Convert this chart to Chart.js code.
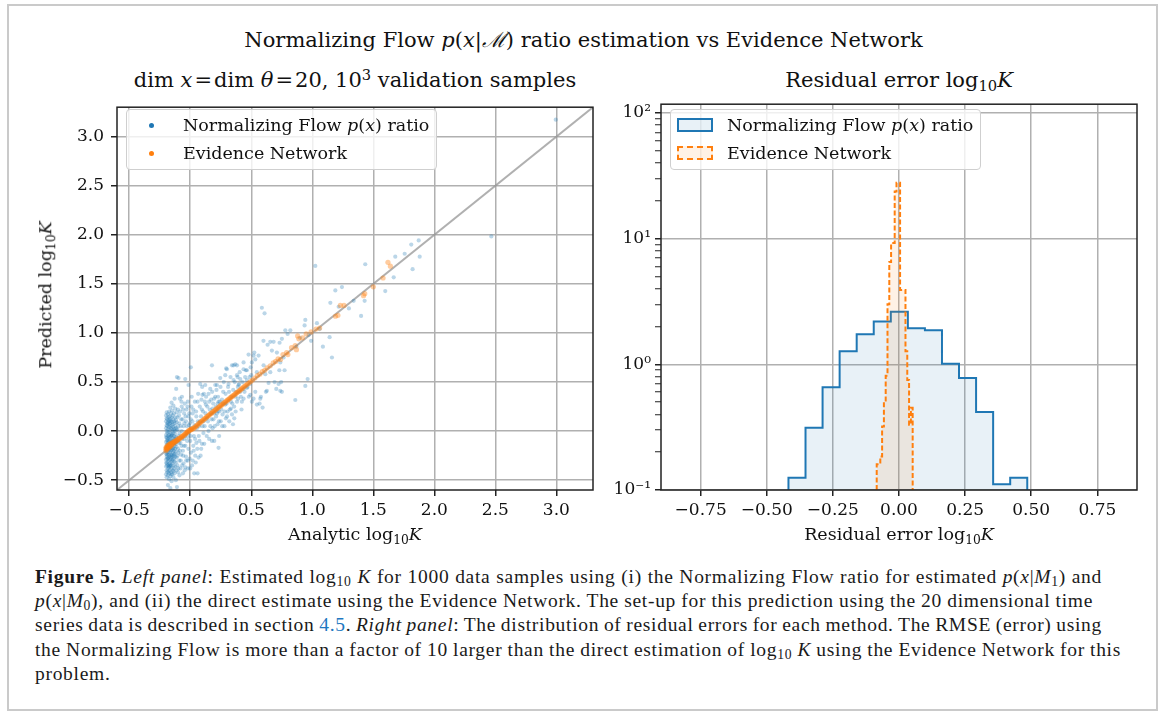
<!DOCTYPE html>
<html>
<head>
<meta charset="utf-8">
<script src="https://cdn.jsdelivr.net/npm/chart.js@4.4.0/dist/chart.umd.min.js"></script>
<style>
  body { margin: 0; width: 1167px; height: 711px; overflow: hidden; background: #fff; font-family: 'DejaVu Serif', serif; color: #111; }
  #frame { position: absolute; left: 7px; top: 4px; width: 1151px; height: 707px; border: 2px solid #cacaca; box-sizing: border-box; }
  .txt { position: absolute; white-space: nowrap; line-height: 1; }
  #suptitle { left: 0; width: 1167px; top: 30px; text-align: center; font-size: 21px; }
  .subtitle { top: 70px; width: 476px; text-align: center; font-size: 21px; }
  .eq { margin: 0 2px; }
  .xlab { top: 526px; width: 476px; text-align: center; font-size: 17.5px; }
  #ylab { left: 46px; top: 295px; font-size: 17.5px; transform: translate(-50%, -50%) rotate(-90deg); }
  sub { font-size: 0.7em; vertical-align: -0.3em; line-height: 0; }
  sup { font-size: 0.7em; vertical-align: 0.5em; line-height: 0; }
  canvas { position: absolute; }
  .legend { position: absolute; width: 311px; height: 61px; border: 1px solid #cfcfcf; border-radius: 4px; background: rgba(255,255,255,0.8); box-sizing: border-box; font-size: 17.5px; }
  .legend .lt { position: absolute; left: 56px; white-space: nowrap; line-height: 1; }
  .dot { position: absolute; width: 5px; height: 5px; border-radius: 50%; }
  .patch { position: absolute; left: 6px; width: 36px; height: 14px; box-sizing: border-box; }
  #caption { position: absolute; left: 35px; top: 565px; font-family: 'Liberation Serif', serif; font-size: 19.5px; line-height: 24.2px; letter-spacing: 0.7px; color: #1a1a1a; }
  #caption div { white-space: nowrap; }
  #caption sub { vertical-align: -0.25em; }
  .ref { color: #1f78c1; }
</style>
</head>
<body>
<div id="frame"></div>
<div class="txt" id="suptitle">Normalizing Flow <i>p</i>(<i>x</i>|<i>ℳ</i>) ratio estimation vs Evidence Network</div>
<div class="txt subtitle" style="left:117px">dim <i>x</i><span class="eq">=</span>dim <i>θ</i><span class="eq">=</span>20, 10<sup>3</sup> validation samples</div>
<div class="txt subtitle" style="left:661px">Residual error log<sub>10</sub><i>K</i></div>

<canvas id="scatterChart" width="560" height="440" style="left:40px;top:90px"></canvas>
<canvas id="histChart" width="560" height="440" style="left:600px;top:90px"></canvas>

<div class="legend" style="left:126px;top:109px">
  <span class="dot" style="left:22px;top:13px;background:#1f77b4"></span>
  <span class="lt" style="top:7px">Normalizing Flow <i>p</i>(<i>x</i>) ratio</span>
  <span class="dot" style="left:22px;top:41px;background:#ff7f0e"></span>
  <span class="lt" style="top:35px">Evidence Network</span>
</div>
<div class="legend" style="left:670px;top:109px">
  <span class="patch" style="top:8px;border:2px solid #1f77b4;background:rgba(31,119,180,0.1)"></span>
  <span class="lt" style="top:7px">Normalizing Flow <i>p</i>(<i>x</i>) ratio</span>
  <span class="patch" style="top:36px;border:2px dashed #ff7f0e;background:rgba(255,127,14,0.1)"></span>
  <span class="lt" style="top:35px">Evidence Network</span>
</div>

<div class="txt xlab" style="left:117px">Analytic log<sub>10</sub><i>K</i></div>
<div class="txt xlab" style="left:661px">Residual error log<sub>10</sub><i>K</i></div>
<div class="txt" id="ylab">Predicted log<sub>10</sub><i>K</i></div>

<div id="caption">
  <div><span class="line"><b>Figure 5.</b> <i>Left panel</i>: Estimated log<sub>10</sub> <i>K</i> for 1000 data samples using (i) the Normalizing Flow ratio for estimated <i>p</i>(<i>x</i>|<i>M</i><sub>1</sub>) and</span></div>
  <div><span class="line"><i>p</i>(<i>x</i>|<i>M</i><sub>0</sub>), and (ii) the direct estimate using the Evidence Network. The set-up for this prediction using the 20 dimensional time</span></div>
  <div><span class="line">series data is described in section <span class="ref">4.5</span>. <i>Right panel</i>: The distribution of residual errors for each method. The RMSE (error) using</span></div>
  <div><span class="line">the Normalizing Flow is more than a factor of 10 larger than the direct estimation of log<sub>10</sub> <i>K</i> using the Evidence Network for this</span></div>
  <div><span class="line">problem.</span></div>
</div>

<script>
// Left panel: analytic vs predicted log10 K
const scatterLimits = [-0.6, 3.3];
const scatterTicks = [-0.5, 0, 0.5, 1, 1.5, 2, 2.5, 3];

// Normalizing Flow ratio, [analytic, predicted]
const flowPoints = [
  [-0.198,-0.44],[-0.198,-0.36],[-0.198,-0.29],[-0.198,-0.23],[-0.198,-0.17],[-0.198,-0.11],[-0.198,-0.04],[-0.198,0.03],[-0.198,0.10],[-0.198,0.16],
  [-0.193,-0.47],[-0.193,-0.40],[-0.193,-0.33],[-0.193,-0.26],[-0.193,-0.20],[-0.193,-0.14],[-0.193,-0.07],[-0.193,0.00],[-0.193,0.06],[-0.193,0.13],[-0.193,0.19],
  [-0.188,-0.42],[-0.188,-0.35],[-0.188,-0.28],[-0.188,-0.22],[-0.188,-0.15],[-0.188,-0.09],[-0.188,-0.02],[-0.188,0.05],[-0.188,0.12],
  [-0.183,-0.55],[-0.183,-0.45],[-0.183,-0.38],[-0.183,-0.31],[-0.183,-0.24],[-0.183,-0.18],[-0.183,-0.12],[-0.183,-0.05],[-0.183,0.02],[-0.183,0.09],[-0.183,0.17],
  [-0.178,-0.41],[-0.178,-0.34],[-0.178,-0.27],[-0.178,-0.21],[-0.178,-0.14],[-0.178,-0.08],[-0.178,-0.01],[-0.178,0.07],[-0.178,0.14],
  [-0.173,-0.49],[-0.173,-0.43],[-0.173,-0.37],[-0.173,-0.30],[-0.173,-0.24],[-0.173,-0.17],[-0.173,-0.10],[-0.173,-0.04],[-0.173,0.04],[-0.173,0.11],[-0.173,0.20],
  [-0.168,-0.40],[-0.168,-0.33],[-0.168,-0.26],[-0.168,-0.19],[-0.168,-0.13],[-0.168,-0.06],[-0.168,0.01],[-0.168,0.08],[-0.168,0.15],
  [-0.163,-0.58],[-0.163,-0.46],[-0.163,-0.36],[-0.163,-0.29],[-0.163,-0.22],[-0.163,-0.16],[-0.163,-0.09],[-0.163,-0.02],[-0.163,0.05],[-0.163,0.12],[-0.163,0.24],
  [-0.158,-0.42],[-0.158,-0.35],[-0.158,-0.27],[-0.158,-0.20],[-0.158,-0.12],[-0.158,-0.05],[-0.158,0.03],[-0.158,0.10],[-0.158,0.18],
  [-0.153,-0.51],[-0.153,-0.38],[-0.153,-0.31],[-0.153,-0.24],[-0.153,-0.17],[-0.153,-0.10],[-0.153,-0.03],[-0.153,0.06],[-0.153,0.14],[-0.153,0.29],
  [-0.148,-0.44],[-0.148,-0.33],[-0.148,-0.26],[-0.148,-0.19],[-0.148,-0.11],[-0.148,-0.04],[-0.148,0.02],[-0.148,0.09],[-0.148,0.21],
  [-0.143,-0.40],[-0.143,-0.29],[-0.143,-0.22],[-0.143,-0.14],[-0.143,-0.07],[-0.143,0.00],[-0.143,0.07],[-0.143,0.16],
  [-0.138,-0.47],[-0.138,-0.35],[-0.138,-0.25],[-0.138,-0.17],[-0.138,-0.09],[-0.138,-0.02],[-0.138,0.04],[-0.138,0.12],[-0.138,0.26],
  [-0.133,-0.38],[-0.133,-0.28],[-0.133,-0.20],[-0.133,-0.12],[-0.133,-0.05],[-0.133,0.02],[-0.133,0.10],[-0.133,0.18],
  [-0.128,-0.43],[-0.128,-0.31],[-0.128,-0.23],[-0.128,-0.15],[-0.128,-0.08],[-0.128,0.00],[-0.128,0.08],[-0.128,0.33],
  [-0.123,-0.36],[-0.123,-0.26],[-0.123,-0.18],[-0.123,-0.10],[-0.123,-0.03],[-0.123,0.05],[-0.123,0.14],[-0.123,0.23],
  [-0.118,-0.50],[-0.118,-0.32],[-0.118,-0.21],[-0.118,-0.13],[-0.118,-0.06],[-0.118,0.03],[-0.118,0.11],
  [-0.112,-0.40],[-0.112,-0.27],[-0.112,-0.16],[-0.112,-0.07],[-0.112,0.01],[-0.112,0.09],[-0.112,0.19],[-0.115,0.43],[-0.109,0.55],[-0.109,-0.57],
  [-0.196,-0.32],[-0.191,-0.24],[-0.186,-0.10],[-0.181,-0.28],[-0.176,-0.19],[-0.171,-0.06],[-0.166,-0.35],[-0.161,-0.13],[-0.156,-0.25],[-0.151,-0.05],
  [-0.146,-0.30],[-0.141,-0.18],[-0.136,-0.41],[-0.131,-0.24],[-0.126,-0.12],[-0.196,-0.06],[-0.186,0.08],[-0.176,-0.36],[-0.166,0.10],[-0.156,-0.44],
  [-0.105,-0.35],[-0.105,-0.25],[-0.105,-0.10],[-0.105,0.02],[-0.105,0.14],[-0.098,-0.22],[-0.098,-0.38],[-0.098,0.05],[-0.092,-0.12],[-0.092,0.16],
  [-0.088,-0.45],[-0.088,-0.02],[-0.085,-0.20],[-0.083,0.20],[-0.078,-0.30],[-0.078,0.05],[-0.072,-0.15],[-0.072,0.30],[-0.066,-0.08],[-0.066,-0.35],
  [-0.063,0.12],[-0.058,0.22],[-0.058,-0.25],[-0.052,-0.15],[-0.048,0.08],[-0.045,-0.40],[-0.043,-0.05],[-0.038,0.15],[-0.033,-0.30],[-0.028,0.05],
  [-0.025,-0.10],[-0.022,0.25],[-0.018,-0.38],[-0.012,-0.02],[-0.008,0.18],[-0.005,-0.28],[-0.003,0.08],
  [-0.10,-0.42],[-0.09,-0.30],[-0.10,-0.18],[-0.095,-0.05],[-0.09,0.08],[-0.10,0.22],[-0.085,0.33],[-0.096,0.54],
  [-0.08,-0.38],[-0.075,-0.24],[-0.08,-0.12],[-0.07,0.00],[-0.075,0.12],[-0.068,0.35],[-0.07,0.25],
  [-0.06,-0.43],[-0.055,-0.33],[-0.06,-0.20],[-0.05,-0.08],[-0.055,0.05],[-0.05,0.18],[-0.045,0.28],
  [-0.04,-0.37],[-0.035,-0.26],[-0.04,-0.15],[-0.03,-0.02],[-0.035,0.10],[-0.03,0.22],[-0.041,0.53],
  [-0.02,-0.30],[-0.015,-0.18],[-0.02,-0.06],[-0.01,0.06],[-0.015,0.15],[-0.014,0.47],[-0.02,0.30],
  [0.00,-0.38],[0.005,-0.22],[0.00,-0.10],[0.01,0.03],[0.005,0.12],[0.01,0.25],[0.005,0.65],
  [0.003,-0.05],[0.012,0.35],[0.015,-0.35],[0.018,0.10],[0.025,0.22],[0.028,-0.20],[0.035,0.06],[0.038,0.30],[0.04,-0.08],[0.045,-0.32],
  [0.048,0.20],[0.058,-0.18],[0.062,0.10],[0.065,0.38],[0.072,0.05],[0.075,-0.10],[0.078,0.25],[0.085,-0.25],[0.088,0.15],[0.092,0.32],
  [0.096,-0.13],[0.098,0.45],
  [0.02,-0.30],[0.025,-0.15],[0.03,-0.05],[0.02,0.18],[0.033,-0.43],[0.06,-0.43],[0.041,-0.25],
  [0.05,-0.12],[0.055,0.03],[0.05,0.15],[0.06,0.30],[0.068,-0.27],[0.07,-0.05],
  [0.08,0.10],[0.082,0.48],[0.09,-0.18],[0.095,0.22],[0.10,0.05],[0.10,0.37],
  [0.105,0.20],[0.108,-0.02],[0.112,0.38],[0.118,0.05],[0.125,0.18],[0.13,0.35],[0.135,-0.05],[0.14,0.25],[0.145,0.10],[0.16,0.22],
  [0.165,0.05],[0.172,0.32],[0.175,0.12],[0.18,0.40],[0.188,0.28],[0.195,0.18],[0.20,0.05],[0.205,0.35],[0.212,0.15],[0.215,0.42],
  [0.225,0.20],[0.228,0.35],[0.235,0.10],[0.242,0.30],[0.248,0.45],[0.255,0.22],[0.262,0.05],[0.268,0.28],[0.275,0.50],[0.282,0.20],
  [0.29,0.38],[0.298,0.28],[0.302,0.15],[0.318,0.40],[0.325,0.22],[0.33,0.55],[0.338,0.35],[0.345,0.28],[0.352,0.42],[0.36,0.25],
  [0.365,0.50],[0.372,0.20],[0.378,0.40],[0.388,0.55],[0.392,0.33],[0.40,0.48],[0.405,0.60],[0.415,0.35],[0.428,0.50],[0.445,0.40],
  [0.455,0.62],[0.47,0.45],[0.485,0.55],[0.495,0.65],
  [0.11,0.10],[0.115,-0.13],[0.12,0.30],[0.123,0.47],[0.128,0.27],[0.137,0.13],[0.15,0.38],[0.15,0.00],[0.155,0.30],[0.155,-0.08],
  [0.164,0.43],[0.17,0.18],[0.178,0.67],[0.178,-0.10],[0.183,0.23],[0.183,0.03],[0.19,0.12],[0.197,0.33],[0.197,-0.10],[0.205,0.47],
  [0.21,0.25],[0.219,0.47],[0.219,0.18],[0.224,0.28],[0.224,0.07],[0.232,0.30],[0.232,-0.17],[0.237,0.20],[0.237,-0.05],[0.246,0.54],
  [0.25,0.10],[0.26,0.32],[0.265,0.17],[0.27,0.40],[0.28,0.05],[0.287,0.57],[0.287,0.27],[0.292,0.13],[0.295,0.64],[0.30,0.63],
  [0.306,0.20],[0.31,0.45],[0.314,0.48],[0.32,0.10],[0.333,0.23],[0.333,0.30],[0.342,0.67],[0.342,0.17],[0.35,0.07],[0.355,0.52],
  [0.355,0.67],[0.361,0.13],[0.369,0.68],[0.37,0.35],[0.383,0.57],[0.383,0.30],[0.383,0.67],[0.39,0.45],[0.396,0.47],[0.41,0.40],
  [0.41,0.53],[0.42,0.22],[0.423,0.30],[0.437,0.33],[0.437,0.43],[0.437,0.63],[0.437,0.70],[0.45,0.55],[0.464,0.44],[0.464,0.52],
  [0.464,0.62],[0.478,0.78],[0.48,0.35],[0.49,0.48],[0.492,0.37],[0.50,0.57],[0.505,0.30],[0.505,0.70],
  [0.519,0.77],[0.519,0.33],[0.525,0.80],[0.533,0.40],[0.533,0.73],[0.546,0.27],[0.546,0.60],[0.56,0.77],[0.568,0.28],[0.574,0.33],
  [0.579,0.35],[0.587,1.257],[0.593,0.24],[0.60,0.92],[0.601,0.67],[0.609,1.20],[0.615,0.58],[0.62,0.40],[0.628,0.41],[0.634,0.88],
  [0.642,0.49],[0.656,0.91],[0.656,0.60],[0.669,0.82],[0.683,0.91],[0.691,0.50],[0.705,0.43],[0.71,0.80],[0.724,0.48],[0.73,0.62],
  [0.732,0.90],[0.738,0.70],[0.738,0.41],[0.745,0.50],[0.751,0.94],[0.751,0.40],[0.765,0.75],[0.773,0.62],[0.779,1.027],[0.798,0.99],
  [0.82,1.027],[0.861,0.317],[0.87,0.86],[0.90,0.95],[0.937,1.077],[0.943,1.133],[0.943,0.46],[0.962,0.53],[0.97,0.98],[0.99,0.92],
  [1.025,1.683],[1.038,1.10],[1.06,1.04],[1.087,0.86],[1.142,0.957],[1.148,1.307],[1.161,0.75],[1.189,1.433],[1.216,1.267],
  [1.243,1.467],[1.30,1.25],[1.339,1.327],[1.40,1.173],[1.429,1.327],[1.434,1.70],[1.598,1.427],[1.667,1.567],[1.68,1.777],
  [1.757,1.807],[1.811,1.90],[1.822,1.65],[1.872,1.943],[1.88,1.777],[2.467,1.983],[2.995,3.173]
];

// Evidence Network, [analytic, predicted]
const evidencePoints = [
  [-0.200,-0.200],[-0.200,-0.180],[-0.198,-0.165],[-0.195,-0.190],[-0.193,-0.172],[-0.190,-0.155],[-0.188,-0.182],[-0.185,-0.165],[-0.183,-0.145],[-0.180,-0.175],
  [-0.178,-0.158],[-0.175,-0.140],[-0.172,-0.165],[-0.170,-0.148],[-0.167,-0.132],[-0.165,-0.158],[-0.162,-0.140],[-0.160,-0.125],[-0.157,-0.150],[-0.155,-0.130],
  [-0.150,-0.138],[-0.147,-0.120],[-0.142,-0.128],[-0.138,-0.112],[-0.134,-0.120],[-0.130,-0.104],[-0.125,-0.112],[-0.120,-0.098],[-0.115,-0.104],[-0.110,-0.090],
  [-0.105,-0.094],[-0.100,-0.080],[-0.094,-0.086],[-0.088,-0.070],[-0.082,-0.074],[-0.076,-0.060],[-0.070,-0.062],[-0.064,-0.050],[-0.058,-0.050],[-0.052,-0.040],
  [-0.046,-0.038],[-0.040,-0.026],[-0.034,-0.024],[-0.028,-0.012],[-0.022,-0.010],[-0.016,0.002],[-0.010,0.002],[-0.004,0.012],[0.002,0.012],[0.008,0.020],
  [0.015,0.018],[0.022,0.028],[0.030,0.030],[0.038,0.040],[0.046,0.046],[0.054,0.058],[0.062,0.064],[0.070,0.078],[0.078,0.082],[0.086,0.094],
  [0.094,0.100],[0.102,0.110],[0.110,0.116],[0.118,0.128],[0.126,0.132],[0.134,0.144],[0.142,0.150],[0.150,0.160],[0.158,0.166],[0.166,0.178],
  [0.174,0.182],[0.182,0.194],[0.190,0.198],[0.198,0.210],[0.206,0.214],[0.214,0.226],[0.222,0.230],[0.230,0.242],[0.238,0.246],[0.246,0.258],
  [0.254,0.262],[0.262,0.274],[0.270,0.278],[0.278,0.290],[0.286,0.294],[0.294,0.306],[0.302,0.310],[0.310,0.322],[0.318,0.326],[0.326,0.338],
  [0.334,0.342],[0.342,0.354],[0.350,0.358],[0.358,0.368],[0.366,0.374],[0.374,0.386],[0.382,0.390],[0.390,0.400],[0.398,0.406],[0.406,0.416],
  [0.414,0.422],[0.422,0.434],[0.430,0.440],[0.440,0.452],[0.450,0.462],[0.460,0.470],[0.470,0.482],[0.482,0.492],[0.495,0.505],[0.510,0.520],
  [0.530,0.540],[0.550,0.565],[0.570,0.580],[0.590,0.605],[0.610,0.620],[0.630,0.645],[0.655,0.665],[0.680,0.695],[0.700,0.710],[0.720,0.735],
  [0.740,0.730],[0.760,0.780],[0.790,0.800],[0.800,0.780],[0.830,0.850],[0.860,0.870],[0.870,0.830],[0.890,0.940],[0.880,0.970],[0.920,0.950],
  [0.950,0.990],[0.990,1.010],[1.030,1.040],[1.060,1.050],[1.190,1.170],[1.210,1.180],[1.230,1.280],[1.260,1.280],[1.420,1.380],[1.430,1.400],
  [1.500,1.470],[1.580,1.560],[1.620,1.720],[1.640,1.680]
];

// Right panel: residual density histograms
const residualLimits = [-0.9, 0.9];
const residualTicks = [-0.75, -0.5, -0.25, 0, 0.25, 0.5, 0.75];
const densityLimits = [0.1, 117];
const densityTicks = [0.1, 1, 10, 100];

const flowEdges = [-0.418, -0.3535, -0.289, -0.2245, -0.16, -0.0955, -0.031, 0.0335, 0.098, 0.1625, 0.227, 0.2915, 0.356, 0.4205, 0.485];
const flowDensity = [0.125, 0.313, 0.656, 1.27, 1.73, 2.19, 2.62, 1.93, 1.86, 1.01, 0.776, 0.417, 0.111, 0.125];

const evidenceEdges = [-0.0843, -0.0775, -0.0707, -0.0639, -0.0571, -0.0503, -0.0435, -0.0367, -0.0299, -0.0231, -0.0163,
  -0.0095, -0.0027, 0.0041, 0.0109, 0.0177, 0.0245, 0.0313, 0.0381, 0.0449, 0.0517];
const evidenceDensity = [0.16, 0.16, 0.185, 0.32, 0.5, 0.81, 3.0, 6.5, 9.2, 9.2, 23.7, 27.8, 27.8, 3.9, 3.9, 3.9, 1.27, 0.75, 0.33, 0.45];

// caption line widths in the original page
const captionWidths = [1067, 1058, 1067, 1086];

const blue = '#1f77b4';
const orange = '#ff7f0e';
const gridColor = '#b0b0b0';
Chart.defaults.font.family = "'DejaVu Serif', serif";
Chart.defaults.color = '#111';

// black box around the plot area (matplotlib spines)
const spines = {
  id: 'spines',
  afterDraw(chart) {
    const { ctx, chartArea: a } = chart;
    ctx.save();
    ctx.strokeStyle = '#222';
    ctx.lineWidth = 1.5;
    ctx.strokeRect(a.left, a.top, a.right - a.left, a.bottom - a.top);
    ctx.restore();
  }
};

function minus(v, d) {
  const s = Math.abs(v).toFixed(d);
  return v < 0 ? '\u2212' + s : s;
}

function isDecade(v) {
  const l = Math.log10(v);
  return Math.abs(l - Math.round(l)) < 1e-6;
}

function power(v) {
  const sup = { '-': '\u207b', '0': '\u2070', '1': '\u00b9', '2': '\u00b2', '3': '\u00b3' };
  return '10' + String(Math.round(Math.log10(v))).split('').map(c => sup[c]).join('');
}

function linearScale(limits, tickValues, decimals, size, pad) {
  return {
    type: 'linear',
    min: limits[0],
    max: limits[1],
    bounds: 'data',
    afterBuildTicks: s => { s.ticks = tickValues.map(v => ({ value: v })); },
    afterFit: s => { if (s.isHorizontal()) s.height = size; else s.width = size; },
    grid: { color: gridColor, lineWidth: 1.5, tickLength: 6, tickColor: '#222', tickWidth: 1.5 },
    border: { display: false },
    ticks: { autoSkip: false, maxRotation: 0, padding: pad, font: { size: 17 }, callback: v => minus(v, decimals) }
  };
}

// step outline of a histogram, closed at the axis floor
function stepPoints(edges, values, floor) {
  const pts = [{ x: edges[0], y: floor }];
  values.forEach((v, i) => {
    pts.push({ x: edges[i], y: v });
    pts.push({ x: edges[i + 1], y: v });
  });
  pts.push({ x: edges[edges.length - 1], y: floor });
  return pts;
}

// minor log ticks 2..9 inside every decade
const logTicks = [];
densityTicks.forEach(d => {
  logTicks.push(d);
  for (let k = 2; k <= 9; k++) if (d * k < densityLimits[1]) logTicks.push(d * k);
});

new Chart(document.getElementById('scatterChart'), {
  type: 'scatter',
  data: {
    datasets: [
      {
        type: 'line',
        data: scatterLimits.map(v => ({ x: v, y: v })),
        borderColor: 'rgba(150,150,150,0.75)',
        borderWidth: 2,
        pointRadius: 0,
        order: 3
      },
      {
        label: 'Normalizing Flow p(x) ratio',
        data: flowPoints.map(([x, y]) => ({ x, y })),
        backgroundColor: 'rgba(31,119,180,0.3)',
        borderWidth: 0,
        pointRadius: 2.1,
        order: 2
      },
      {
        label: 'Evidence Network',
        data: evidencePoints.map(([x, y]) => ({ x, y })),
        backgroundColor: 'rgba(255,127,14,0.4)',
        borderWidth: 0,
        pointRadius: 2.6,
        order: 1
      }
    ]
  },
  options: {
    responsive: false,
    animation: false,
    events: [],
    layout: { padding: { top: 10, right: 7, left: 15, bottom: 10 } },
    plugins: { legend: { display: false }, tooltip: { enabled: false } },
    scales: {
      x: linearScale(scatterLimits, scatterTicks, 1, 30, 4),
      y: linearScale(scatterLimits, scatterTicks, 1, 62, 7)
    }
  },
  plugins: [spines]
});

const densityScale = {
  type: 'logarithmic',
  min: densityLimits[0],
  max: densityLimits[1],
  bounds: 'data',
  afterBuildTicks: s => { s.ticks = logTicks.map(v => ({ value: v, major: isDecade(v) })); },
  afterFit: s => { s.width = 50; },
  grid: {
    color: c => isDecade(c.tick.value) ? gridColor : 'rgba(0,0,0,0)',
    lineWidth: 1.5,
    tickLength: 6,
    tickColor: '#222',
    tickWidth: c => isDecade(c.tick.value) ? 1.5 : 1
  },
  border: { display: false },
  ticks: { autoSkip: false, padding: 4, font: { size: 17 }, callback: v => isDecade(v) ? power(v) : '' }
};

new Chart(document.getElementById('histChart'), {
  type: 'line',
  data: {
    datasets: [
      {
        label: 'Normalizing Flow p(x) ratio',
        data: stepPoints(flowEdges, flowDensity, densityLimits[0]),
        borderColor: blue,
        borderWidth: 2,
        backgroundColor: 'rgba(31,119,180,0.1)',
        fill: 'start',
        pointRadius: 0,
        order: 2
      },
      {
        label: 'Evidence Network',
        data: stepPoints(evidenceEdges, evidenceDensity, densityLimits[0]),
        borderColor: orange,
        borderWidth: 2,
        borderDash: [5, 2.5],
        backgroundColor: 'rgba(255,127,14,0.1)',
        fill: 'start',
        pointRadius: 0,
        order: 1
      }
    ]
  },
  options: {
    responsive: false,
    animation: false,
    events: [],
    layout: { padding: { top: 10, right: 23, left: 11, bottom: 10 } },
    plugins: { legend: { display: false }, tooltip: { enabled: false } },
    scales: {
      x: linearScale(residualLimits, residualTicks, 2, 30, 4),
      y: densityScale
    }
  },
  plugins: [spines]
});

// stretch the caption lines to the widths of the printed page
document.querySelectorAll('#caption .line').forEach((line, i) => {
  if (!captionWidths[i]) return;
  const spaces = (line.textContent.match(/ /g) || []).length;
  const extra = captionWidths[i] - line.getBoundingClientRect().width;
  line.style.wordSpacing = (extra / spaces) + 'px';
});
</script>
</body>
</html>
